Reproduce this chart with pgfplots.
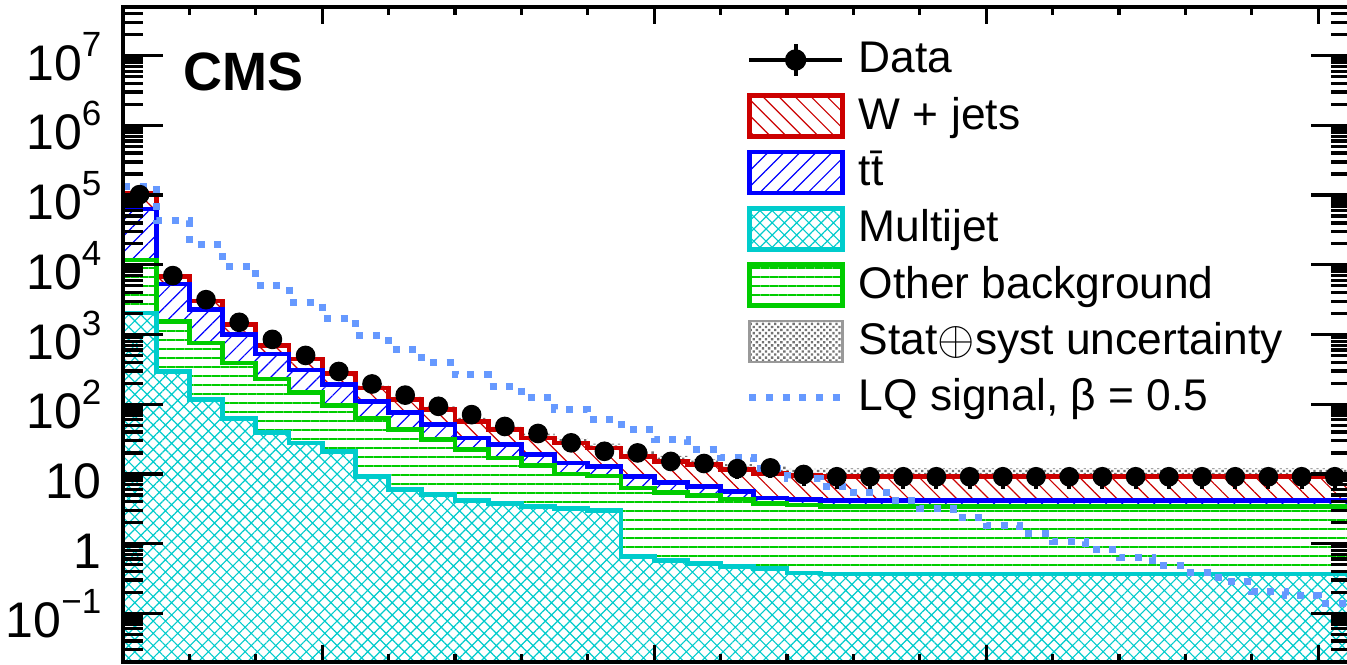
\documentclass[border=0pt]{standalone}
\usepackage{fontspec}
\setmainfont{Liberation Sans}
\usepackage{pgfplots}
\pgfplotsset{compat=1.18}
\usepackage{pgfplotstable}
\usetikzlibrary{patterns.meta}
\usepgfplotslibrary{fillbetween}

\definecolor{wjred}{RGB}{204,0,0}
\definecolor{ttblue}{RGB}{0,0,255}
\definecolor{mjcyan}{RGB}{0,204,204}
\definecolor{obgreen}{RGB}{0,204,0}
\definecolor{lqblue}{RGB}{102,153,255}
\definecolor{bandgray}{RGB}{115,115,115}

\newcommand\tp[1]{10\raisebox{7.2pt}{\fontsize{10.5}{12}\selectfont #1}}
% invisible box that fixes the size of every legend image
\newcommand\legsize{\pgfpathrectangle{\pgfpoint{-0.7pt}{-6.85pt}}{\pgfpoint{33.6pt}{13.7pt}}\pgfusepath{discard}}

% stacked totals (left bin edge), uncertainty band and LQ signal
\pgfplotstableread{
x    cy     gr     bl     rd     up     lo     sig
200  2042   11750  63100  107000 110200 103800 134900
250  295    1549   5309   6839   7044   6634   43050
300  117.5  759    2291   3020   3111   2929   19500
350  61.7   389    1000   1380   1421   1339   9550
400  38.9   229    525    700    735    665    5012
450  27.9   148    309    447    469    425    2884
500  20.9   95.5   190.5  275    297    253    1698
550  9.23   63.1   109.6  170    184    156    955
600  5.96   43.7   75.9   117.5  127    108    603
650  5.01   30.9   51.3   83.2   93.2   73.2   398
700  4.17   22.4   32.7   56.9   63.7   50.1   263
750  3.75   17.0   26.3   43.2   48.4   38.0   182
800  3.37   13.2   18.9   32.7   37.9   27.5   123
850  3.16   10.0   14.4   27.9   32.4   23.4   83.2
900  3.01   9.33   12.9   23.4   27.1   19.7   60.3
950  0.646  6.31   9.25   17.8   21.4   14.2   43.7
1000 0.575  5.45   7.59   15.1   18.1   12.1   30.9
1050 0.516  4.90   6.61   13.5   16.2   10.8   22.4
1100 0.473  4.37   5.62   11.5   13.8   9.2    17.0
1150 0.437  3.75   4.53   10.2   12.75  7.65   12.0
1200 0.380  3.59   4.27   9.44   11.8   7.08   8.5
1250 0.367  3.43   4.14   9.2    11.96  6.44   6.6
1300 0.367  3.43   4.14   9.2    11.96  6.44   5.37
1350 0.367  3.43   4.14   9.2    11.96  6.44   4.12
1400 0.367  3.43   4.14   9.2    11.96  6.44   3.16
1450 0.367  3.43   4.14   9.2    11.96  6.44   2.40
1500 0.367  3.43   4.14   9.2    11.96  6.44   1.84
1550 0.367  3.43   4.14   9.2    11.96  6.44   1.38
1600 0.367  3.43   4.14   9.2    11.96  6.44   1.07
1650 0.367  3.43   4.14   9.2    11.96  6.44   0.813
1700 0.367  3.43   4.14   9.2    11.96  6.44   0.631
1750 0.367  3.43   4.14   9.2    11.96  6.44   0.479
1800 0.367  3.43   4.14   9.2    11.96  6.44   0.389
1850 0.367  3.43   4.14   9.2    11.96  6.44   0.288
1900 0.367  3.43   4.14   9.2    11.96  6.44   0.204
1950 0.367  3.43   4.14   9.2    11.96  6.44   0.178
2000 0.367  3.43   4.14   9.2    11.96  6.44   0.138
2050 0.367  3.43   4.14   9.2    11.96  6.44   0.138
}\stack

% data at bin centres
\pgfplotstableread{
xc   d      de
225  101600 319
275  7000   83.7
325  3162   56.2
375  1496   38.7
425  851    29.2
475  501    22.4
525  295    17.2
575  195    14.0
625  135    11.6
675  93.3   9.66
725  70.8   8.41
775  47.9   6.92
825  38.0   6.16
875  27.9   5.28
925  21.1   4.59
975  20.0   4.47
1025 15.1   3.89
1075 14.1   3.75
1125 11.9   3.45
1175 12.2   3.49
1225 9.8    3.13
1275 9.1    3.02
1325 9.1    3.02
1375 9.1    3.02
1425 9.1    3.02
1475 9.1    3.02
1525 9.1    3.02
1575 9.1    3.02
1625 9.1    3.02
1675 9.1    3.02
1725 9.1    3.02
1775 9.1    3.02
1825 9.1    3.02
1875 9.1    3.02
1925 9.1    3.02
1975 9.1    3.02
2025 9.1    3.02
}\data

\pgfplotsset{
  legbox/.style={legend image code/.code={
    \draw[##1] (0pt,-6.15pt) rectangle (27.9pt,6.15pt);
    \legsize}},
  legline/.style={legend image code/.code={
    \draw[##1] (0pt,0pt) -- (27.9pt,0pt);
    \legsize}},
  legdata/.style={legend image code/.code={
    \draw[##1, mark repeat=2, mark phase=2] plot coordinates {(0pt,0pt) (13.95pt,0pt) (27.9pt,0pt)};
    \draw[black, line width=1.2pt] (13.95pt,-4.7pt) -- (13.95pt,4.7pt);
    \legsize}},
  wjstyle/.style={fill=white, postaction={pattern={Lines[angle=-45,distance=3.4pt,line width=0.35pt]}, pattern color=wjred}},
  ttstyle/.style={fill=white, postaction={pattern={Lines[angle=45,distance=3.4pt,line width=0.35pt]}, pattern color=ttblue}},
  obstyle/.style={fill=white, postaction={pattern={Lines[angle=0,distance=2.7pt,line width=0.35pt]}, pattern color=obgreen}},
  mjstyle/.style={fill=white, postaction={pattern={Hatch[angle=45,distance=2.6pt,line width=0.35pt]}, pattern color=mjcyan}},
  bandstyle/.style={pattern={Dots[angle=45,distance=1.3pt,radius=0.5pt]}, pattern color=bandgray},
  lqstyle/.style={color=lqblue, line width=2.1pt, dash pattern=on 2.1pt off 2.9pt},
}

\begin{document}
\begin{tikzpicture}
\begin{axis}[
  scale only axis, width=368.52pt, height=196.5pt,
  at={(0pt,0pt)}, anchor=south west,
  xmin=200, xmax=2050, ymin=0.02, ymax=5e7,
  ymode=log, log origin y=infty,
  axis on top,
  xtick=\empty,
  ytick={0.1,1,10,100,1000,10000,100000,1000000,10000000},
  yticklabels={\tp{−1},1,10,\tp{2},\tp{3},\tp{4},\tp{5},\tp{6},\tp{7}},
  minor ytick={0.02,0.03,0.04,0.05,0.06,0.07,0.08,0.09,
    0.2,0.3,0.4,0.5,0.6,0.7,0.8,0.9,2,3,4,5,6,7,8,9,
    20,30,40,50,60,70,80,90,200,300,400,500,600,700,800,900,
    2000,3000,4000,5000,6000,7000,8000,9000,
    2e4,3e4,4e4,5e4,6e4,7e4,8e4,9e4,2e5,3e5,4e5,5e5,6e5,7e5,8e5,9e5,
    2e6,3e6,4e6,5e6,6e6,7e6,8e6,9e6,2e7,3e7,4e7},
  major tick length=12pt, minor tick length=6pt,
  tick style={line width=1pt, black},
  axis line style={line width=1.2pt},
  yticklabel style={anchor=base east, inner sep=0pt, xshift=-6.3pt, yshift=-7.35pt,
    font=\fontsize{15}{18}\selectfont},
  legend cell align=left,
  legend style={at={(axis description cs:0.50635,0.955)}, anchor=north west,
    draw=none, fill=none, inner sep=0pt, row sep=3.2pt, column sep=0pt,
    nodes={inner sep=0pt, text height=7.7pt, text depth=0pt,
      font=\fontsize{13.3}{16}\selectfont}},
]
% stack: W+jets, ttbar, other, multijet (cumulative)
\addplot[const plot mark left, draw=none, wjstyle, forget plot] table[x=x, y=rd] {\stack} \closedcycle;
\addplot[const plot mark left, draw=wjred, line width=1.4pt, forget plot] table[x=x, y=rd] {\stack};
\addplot[const plot mark left, draw=none, ttstyle, forget plot] table[x=x, y=bl] {\stack} \closedcycle;
\addplot[const plot mark left, draw=ttblue, line width=1.4pt, forget plot] table[x=x, y=bl] {\stack};
\addplot[const plot mark left, draw=none, obstyle, forget plot] table[x=x, y=gr] {\stack} \closedcycle;
\addplot[const plot mark left, draw=obgreen, line width=1.4pt, forget plot] table[x=x, y=gr] {\stack};
\addplot[const plot mark left, draw=none, mjstyle, forget plot] table[x=x, y=cy] {\stack} \closedcycle;
\addplot[const plot mark left, draw=mjcyan, line width=1.4pt, forget plot] table[x=x, y=cy] {\stack};
% uncertainty band
\addplot[const plot mark left, draw=none, name path=up, forget plot] table[x=x, y=up] {\stack};
\addplot[const plot mark left, draw=none, name path=lo, forget plot] table[x=x, y=lo] {\stack};
\addplot[bandstyle, draw=none, forget plot] fill between[of=up and lo];
% signal
\addplot[const plot mark left, lqstyle, forget plot] table[x=x, y=sig] {\stack};
% data
\addplot[only marks, mark=*, mark size=2.75pt, black, forget plot,
  error bars/.cd, y dir=both, y explicit, error mark=none,
  error bar style={line width=1.2pt, black}]
  table[x=xc, y=d, y error=de] {\data};

\addlegendimage{legdata, black, mark=*, mark size=2.6pt, line width=1.2pt}
\addlegendentry{Data}
\addlegendimage{legbox, draw=wjred, line width=1.4pt, wjstyle}
\addlegendentry{W + jets}
\addlegendimage{legbox, draw=ttblue, line width=1.4pt, ttstyle}
\addlegendentry{t\=t}
\addlegendimage{legbox, draw=mjcyan, line width=1.4pt, mjstyle}
\addlegendentry{Multijet}
\addlegendimage{legbox, draw=obgreen, line width=1.4pt, obstyle}
\addlegendentry{Other background}
\addlegendimage{legbox, draw=gray!80, line width=0.8pt, bandstyle}
\addlegendentry{Stat${\oplus}$syst uncertainty}
\addlegendimage{legline, lqstyle}
\addlegendentry{LQ signal, β = 0.5}

\node[anchor=base west, inner sep=0pt, font=\fontsize{16.2}{19}\selectfont\bfseries]
  at (axis description cs:0.0488,0.8718) {CMS};
\end{axis}
% x ticks (shorter than the y ticks)
\begin{axis}[
  scale only axis, width=368.52pt, height=196.5pt,
  at={(0pt,0pt)}, anchor=south west,
  xmin=200, xmax=2050, ymin=0, ymax=1,
  ytick=\empty,
  xtick={500,1000,1500,2000},
  minor xtick={300,400,600,700,800,900,1100,1200,1300,1400,1600,1700,1800,1900},
  xticklabels={},
  major tick length=5.2pt, minor tick length=2.5pt,
  tick style={line width=1pt, black},
  axis line style={line width=1.2pt},
]
\end{axis}
\pgfresetboundingbox
\useasboundingbox (-36.9pt,-0.6pt) rectangle (367.2pt,198.6pt);
\end{tikzpicture}
\end{document}
